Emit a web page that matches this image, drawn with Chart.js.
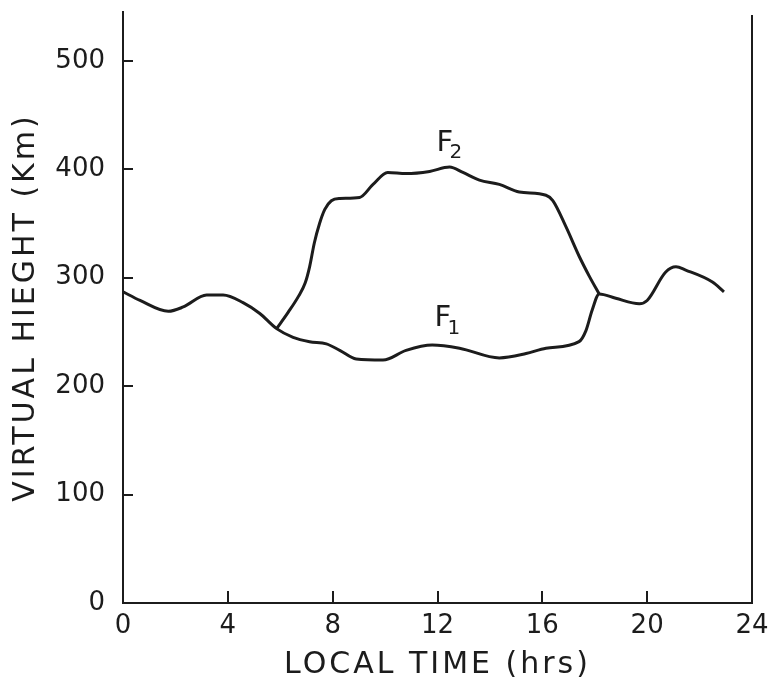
<!DOCTYPE html>
<html>
<head>
<meta charset="utf-8">
<script src="https://cdn.jsdelivr.net/npm/chart.js@4/dist/chart.umd.min.js"></script>
<style>
  html, body { margin: 0; padding: 0; background: #fff; }
  canvas { display: block; }
</style>
</head>
<body>
<canvas id="chartAltura" width="780" height="687"></canvas>
<script>
// base curve (whole day, F1 during daytime)
const horasBase = [0, 0.65, 1.73, 2.3, 3.19, 3.82, 4.58, 5.22, 5.86, 6.49, 7.12, 7.76, 8.27, 8.9, 9.92,
    10.8, 11.8, 12.84, 14.36, 15.38, 16.14, 17.4, 17.66, 17.9, 18.17, 18.8, 19.7, 20.0, 20.7, 21.1,
    21.47, 22.49, 22.93];
const alturaBase = [287, 279, 269, 273, 284, 284, 277, 267, 253, 245, 241, 239, 233, 225, 224,
    233, 238, 235, 226, 230, 235, 241, 251, 270, 285, 281, 276, 279, 305, 310,
    307, 296, 287];

// F2 layer (daytime only)
const horasF2 = [5.86, 6.3, 6.7, 6.95, 7.12, 7.3, 7.5, 7.7, 7.95, 8.27, 9.03, 9.54, 10.1, 10.8, 11.7,
    12.46, 12.97, 13.6, 14.36, 15.12, 16.14, 16.4, 16.9, 17.4, 17.8, 18.17];
const alturaF2 = [253, 268, 283, 295, 310, 332, 350, 363, 371, 373, 374, 386, 397, 396, 398,
    402, 397, 390, 386, 379, 376, 371, 347, 320, 301, 285];

const ticksX = [0, 4, 8, 12, 16, 20, 24];
const ticksY = [0, 100, 200, 300, 400, 500];

const INK = '#1c1c1c';
const FONT = '"DejaVu Sans", sans-serif';

// layer names written next to the curves
const etiquetas = [
    { texto: 'F', sub: '2', x: 11.96, y: 424 },
    { texto: 'F', sub: '1', x: 11.89, y: 262 }
];

const puntos = (xs, ys) => xs.map((x, i) => ({ x: x, y: ys[i] }));

// right frame line + inward tick marks
const marco = {
    id: 'marco',
    afterDraw(chart) {
        const { ctx, chartArea: { left, right, top, bottom }, scales: { x, y } } = chart;
        ctx.save();
        ctx.strokeStyle = INK;
        ctx.lineWidth = 2;
        ctx.beginPath();
        ctx.moveTo(right, top + 3);
        ctx.lineTo(right, bottom);
        y.ticks.forEach(t => {
            if (t.value === 0) return;
            const py = Math.round(y.getPixelForValue(t.value));
            ctx.moveTo(left, py);
            ctx.lineTo(left + 10, py);
        });
        x.ticks.forEach(t => {
            if (t.value === 0 || t.value === 24) return;
            const px = Math.round(x.getPixelForValue(t.value));
            ctx.moveTo(px, bottom);
            ctx.lineTo(px, bottom - 12);
        });
        ctx.stroke();
        ctx.restore();
    }
};

const rotulos = {
    id: 'rotulos',
    afterDatasetsDraw(chart) {
        const { ctx, scales: { x, y } } = chart;
        ctx.save();
        ctx.fillStyle = INK;
        ctx.textAlign = 'left';
        ctx.textBaseline = 'middle';
        etiquetas.forEach(e => {
            const px = x.getPixelForValue(e.x);
            const py = y.getPixelForValue(e.y);
            ctx.font = '29px ' + FONT;
            ctx.fillText(e.texto, px, py);
            ctx.font = '20px ' + FONT;
            ctx.fillText(e.sub, px + 13, py + 10);
        });
        ctx.restore();
    }
};

// the axis titles are lettered with wide spacing
const espaciado = {
    id: 'espaciado',
    beforeDraw(chart) {
        ['x', 'y'].forEach(id => {
            const s = chart.scales[id];
            if (s._conEspacio) return;
            const dibujar = s.drawTitle;
            s.drawTitle = function () {
                this.ctx.save();
                this.ctx.letterSpacing = '3px';
                dibujar.call(this);
                this.ctx.restore();
            };
            s._conEspacio = true;
        });
    }
};

new Chart(document.getElementById('chartAltura'), {
    type: 'line',
    data: {
        datasets: [{
            label: 'F1',
            data: puntos(horasBase, alturaBase)
        }, {
            label: 'F2',
            data: puntos(horasF2, alturaF2)
        }]
    },
    options: {
        responsive: false,
        animation: false,
        devicePixelRatio: 1,
        layout: { padding: { top: 12, right: 28, left: 0, bottom: 0 } },
        elements: {
            point: { radius: 0 },
            line: { borderWidth: 3, borderColor: INK, cubicInterpolationMode: 'monotone', fill: false }
        },
        plugins: {
            legend: { display: false },
            tooltip: { enabled: false }
        },
        scales: {
            x: {
                type: 'linear',
                min: 0,
                max: 24,
                afterBuildTicks: s => { s.ticks = ticksX.map(v => ({ value: v })); },
                afterFit: s => { s.height = 84; },
                grid: { display: false, drawTicks: false },
                border: { display: true, color: INK, width: 2 },
                ticks: { color: INK, font: { family: FONT, size: 26 }, padding: 8, maxRotation: 0, autoSkip: false },
                title: {
                    display: true,
                    text: 'LOCAL TIME (hrs)',
                    color: INK,
                    font: { family: FONT, size: 30 },
                    padding: { top: 0, bottom: 4 }
                }
            },
            y: {
                min: 0,
                max: 545,
                afterBuildTicks: s => { s.ticks = ticksY.map(v => ({ value: v })); },
                afterFit: s => { s.width = 123; s.paddingTop = 0; s.paddingBottom = 0; },
                grid: { display: false, drawTicks: false },
                border: { display: true, color: INK, width: 2 },
                ticks: { color: INK, font: { family: FONT, size: 26 }, padding: 18 },
                title: {
                    display: true,
                    text: 'VIRTUAL HIEGHT (Km)',
                    color: INK,
                    font: { family: FONT, size: 30 },
                    padding: { top: 8, bottom: 0 }
                }
            }
        }
    },
    plugins: [marco, rotulos, espaciado]
});
</script>
</body>
</html>
